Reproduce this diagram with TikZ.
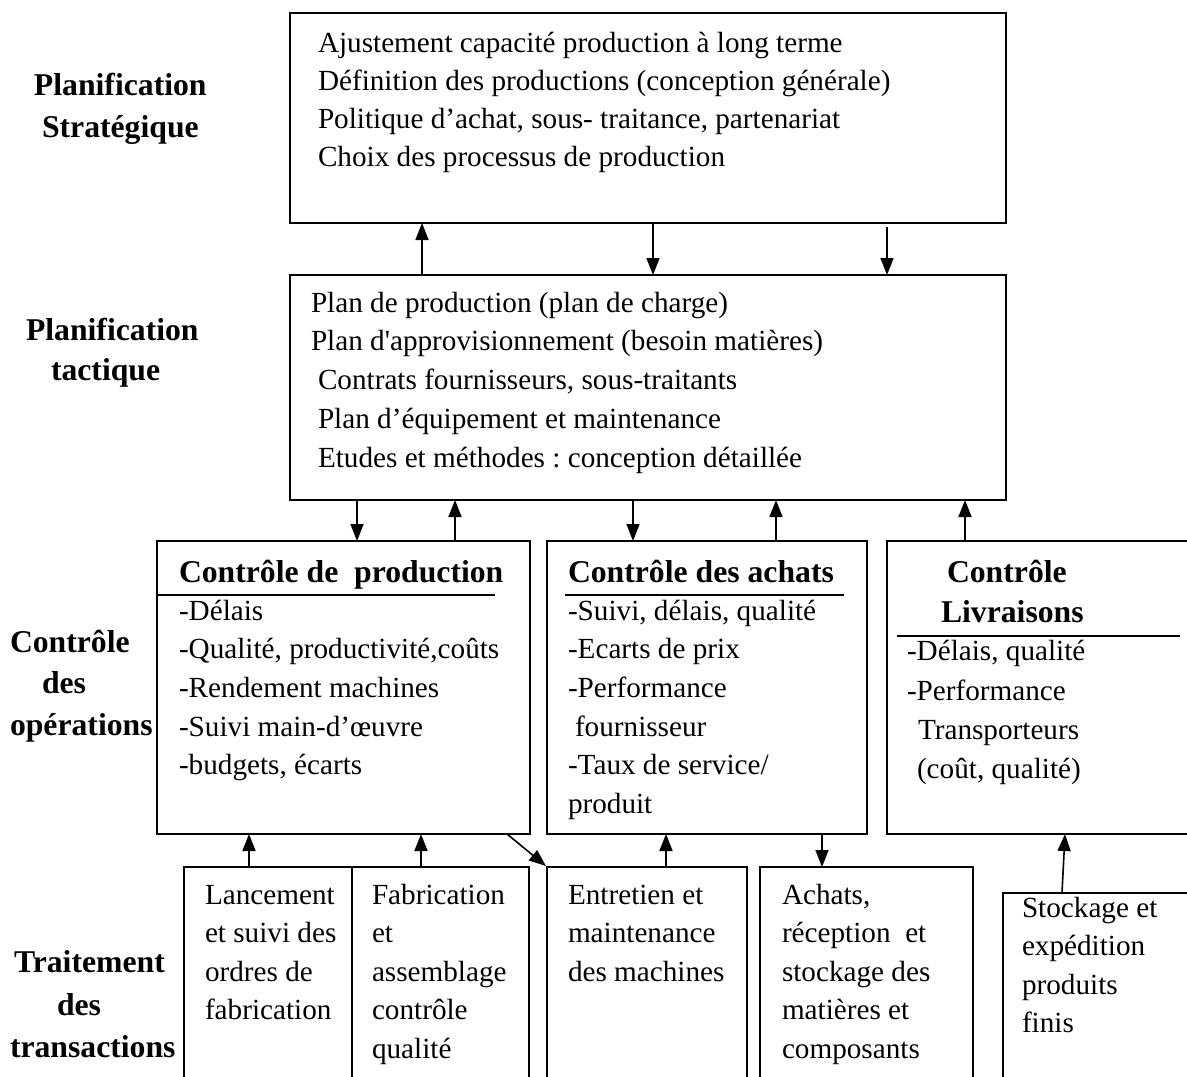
\documentclass[tikz,border=0pt]{standalone}
\usepackage{fontspec}
\setmainfont{Liberation Serif}[Ligatures=TeXOff]
\usetikzlibrary{arrows.meta}
\frenchspacing

\begin{document}
\begin{tikzpicture}[x=1pt,y=-1pt,
  box/.style={draw, line width=1.6pt, rectangle, anchor=north west, inner sep=0pt, outer sep=0pt},
  txt/.style={anchor=base west, inner sep=0pt, outer sep=0pt, font=\fontsize{29.2}{38}\selectfont},
  hd/.style={anchor=base west, inner sep=0pt, outer sep=0pt, font=\fontsize{31.7}{40}\selectfont\bfseries},
  arr/.style={line width=1.6pt, -{Triangle[length=17pt,width=13pt]}},
  rule/.style={line width=1.6pt}]

\useasboundingbox (0,0) rectangle (1187,1077);

% ---- level boxes ----
\node[box, minimum width=716pt, minimum height=210pt] (strat) at (290,13) {};
\node[box, minimum width=716pt, minimum height=225pt] (tact) at (290,275) {};
\node[box, minimum width=373pt, minimum height=293pt] (cprod) at (157,541) {};
\node[box, minimum width=320pt, minimum height=293pt] (cachat) at (547,541) {};
\node[box, minimum width=330pt, minimum height=293pt] (cliv) at (887,541) {};
% transaction boxes run past the lower edge of the page
\node[box, minimum width=168pt, minimum height=240pt] (tlance) at (184,867) {};
\node[box, minimum width=177pt, minimum height=240pt] (tfab) at (352,867) {};
\node[box, minimum width=200pt, minimum height=240pt] (tentr) at (547,867) {};
\node[box, minimum width=213pt, minimum height=240pt] (tachat) at (760,867) {};
\node[box, minimum width=220pt, minimum height=220pt] (tstock) at (1003,893) {};

% ---- row labels ----
\node[hd] (l1a) at (34,95) {Planification};
\node[hd] (l1b) at (42,137) {Stratégique};
\node[hd] (l2a) at (26,340) {Planification};
\node[hd] (l2b) at (51,380) {tactique};
\node[hd] (l3a) at (10,652) {Contrôle};
\node[hd] (l3b) at (42,693) {des};
\node[hd] (l3c) at (10,735) {opérations};
\node[hd] (l4a) at (14,972) {Traitement};
\node[hd] (l4b) at (57,1015) {des};
\node[hd] (l4c) at (10,1057) {transactions};

% ---- strategic planning ----
\foreach \lbl [count=\i from 0] in {Ajustement capacité production à long terme,
    Définition des productions (conception générale),
    {Politique d’achat, sous- traitance, partenariat},
    Choix des processus de production}
  \node[txt] (s\i) at (318,{52+38.3*\i}) {\lbl};

% ---- tactical planning ----
\node[txt] (t0) at (311,312) {Plan de production (plan de charge)};
\node[txt] (t1) at (311,350.8) {Plan d'approvisionnement (besoin matières)};
\node[txt] (t2) at (318,389.6) {Contrats fournisseurs, sous-traitants};
\node[txt] (t3) at (318,428.4) {Plan d’équipement et maintenance};
\node[txt] (t4) at (318,467) {Etudes et méthodes : conception détaillée};

% ---- production control ----
\node[hd] (h1) at (179,582) {Contrôle de~~production};
\draw[rule] (157,595) -- (495,595);
\foreach \lbl [count=\i from 0] in {-Délais, {-Qualité, productivité,coûts},
    -Rendement machines, -Suivi main-d’œuvre, {-budgets, écarts}}
  \node[txt] (p\i) at (179,{620+38.7*\i}) {\lbl};

% ---- purchasing control ----
\node[hd] (h2) at (568,582) {Contrôle des achats};
\draw[rule] (565,595) -- (844,595);
\node[txt] (a0) at (568,620) {-Suivi, délais, qualité};
\node[txt] (a1) at (568,658.7) {-Ecarts de prix};
\node[txt] (a2) at (568,697.4) {-Performance};
\node[txt] (a3) at (575,736) {fournisseur};
\node[txt] (a4) at (568,774.8) {-Taux de service/};
\node[txt] (a5) at (568,813.5) {produit};

% ---- delivery control ----
\node[hd] (h3a) at (947,582) {Contrôle};
\node[hd] (h3b) at (941,622) {Livraisons};
\draw[rule] (897,636) -- (1180,636);
\node[txt] (d0) at (907,660) {-Délais, qualité};
\node[txt] (d1) at (907,700) {-Performance};
\node[txt] (d2) at (918,739) {Transporteurs};
\node[txt] (d3) at (917,778) {(coût, qualité)};

% ---- transactions ----
\foreach \lbl [count=\i from 0] in {Lancement, et suivi des, ordres de, fabrication}
  \node[txt] (ta\i) at (205,{904+38.6*\i}) {\lbl};
\foreach \lbl [count=\i from 0] in {Fabrication, et, assemblage, contrôle, qualité}
  \node[txt] (tb\i) at (372,{904+38.6*\i}) {\lbl};
\foreach \lbl [count=\i from 0] in {Entretien et, maintenance, des machines}
  \node[txt] (tc\i) at (568,{904+38.6*\i}) {\lbl};
\foreach \lbl [count=\i from 0] in {Achats{,}, réception~~et, stockage des, matières et, composants}
  \node[txt] (td\i) at (782,{904+38.6*\i}) {\lbl};
\foreach \lbl [count=\i from 0] in {Stockage et, expédition, produits, finis}
  \node[txt] (te\i) at (1022,{917+38.6*\i}) {\lbl};

% ---- connectors ----
\coordinate (x1) at (422,0);
\coordinate (x2) at (653,0);
\coordinate (x3) at (887,0);
\draw[arr] (x1 |- tact.north) -- (x1 |- strat.south);
\draw[arr] (x2 |- strat.south) -- (x2 |- tact.north);
\draw[arr] ([yshift=-4pt]x3 |- strat.south) -- (x3 |- tact.north);

\coordinate (x4) at (357,0);
\coordinate (x5) at (455,0);
\coordinate (x6) at (633,0);
\coordinate (x7) at (776,0);
\coordinate (x8) at (965,0);
\draw[arr] (x4 |- tact.south) -- (x4 |- cprod.north);
\draw[arr] (x5 |- cprod.north) -- (x5 |- tact.south);
\draw[arr] (x6 |- tact.south) -- (x6 |- cachat.north);
\draw[arr] (x7 |- cachat.north) -- (x7 |- tact.south);
\draw[arr] (x8 |- cliv.north) -- (x8 |- tact.south);

\coordinate (x9) at (249,0);
\coordinate (x10) at (421,0);
\coordinate (x11) at (507,0);
\coordinate (x12) at (666,0);
\coordinate (x13) at (822,0);
\coordinate (x14) at (1062,0);
\coordinate (x15) at (1065,0);
\draw[arr] (x9 |- tlance.north) -- (x9 |- cprod.south);
\draw[arr] (x10 |- tfab.north) -- (x10 |- cprod.south);
\draw[arr] (x11 |- cprod.south) -- ([xshift=-1pt,yshift=1pt]tentr.north west);
\draw[arr] (x12 |- tentr.north) -- (x12 |- cachat.south);
\draw[arr] (x13 |- cachat.south) -- (x13 |- tachat.north);
\draw[arr] (x14 |- tstock.north) -- (x15 |- cliv.south);
\end{tikzpicture}
\end{document}
